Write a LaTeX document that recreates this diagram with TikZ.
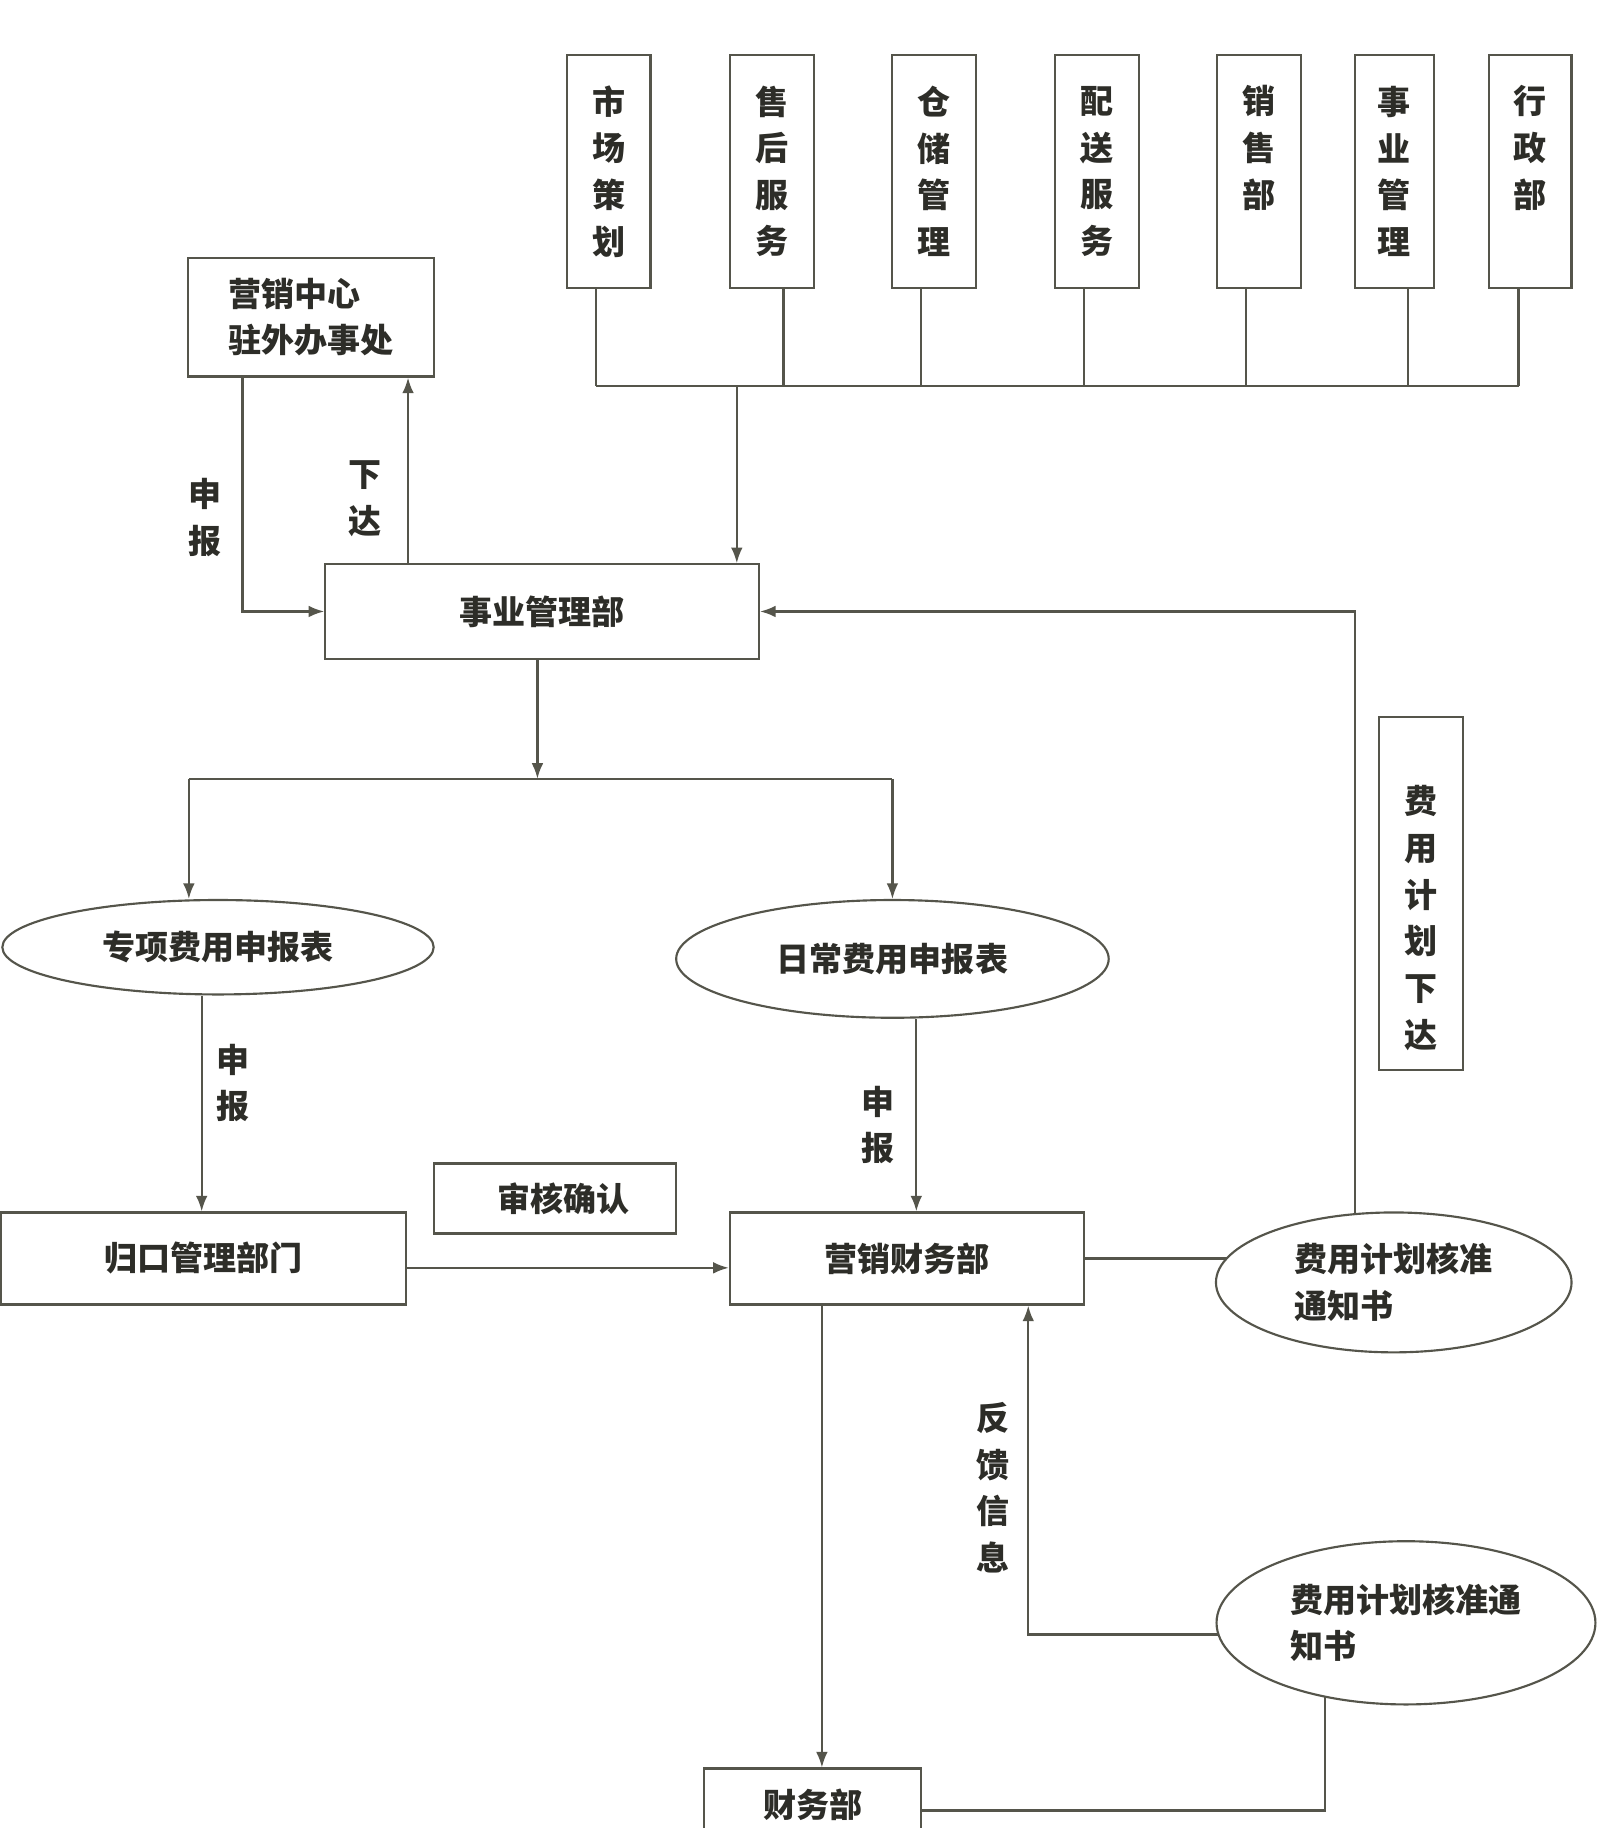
\documentclass[tikz,border=0pt]{standalone}
\usepackage{fontspec}
\setmainfont{Noto Sans CJK SC}
\usetikzlibrary{shapes.geometric,arrows.meta,calc,backgrounds}
\definecolor{lnc}{RGB}{85,85,75}
\definecolor{txc}{RGB}{45,45,40}
\def\U{0.6pt}
\begin{document}
\begin{tikzpicture}[x=0.6pt,y=-0.6pt,
  every node/.style={font=\fontsize{17}{24}\selectfont\bfseries, text=txc},
  bx/.style n args={2}{draw=lnc, line width=1.1pt, fill=white, rectangle, inner sep=0pt, align=center, minimum width=#1*\U, minimum height=#2*\U},
  el/.style n args={2}{draw=lnc, line width=1.1pt, fill=white, ellipse, inner sep=0pt, align=center, minimum width=#1*\U, minimum height=#2*\U},
  vt/.style={align=center, inner sep=0pt},
  cn/.style={draw=lnc, line width=1.1pt},
  arr/.style={cn, -{Latex[length=8pt,width=6pt]}}
]
\useasboundingbox (0,0) rectangle (1370,1568);

% top department boxes
\node[bx={72}{200}] (b1) at (522,147) {市\\场\\策\\划};
\node[bx={72}{200}] (b2) at (662,147) {售\\后\\服\\务};
\node[bx={72}{200}] (b3) at (801,147) {仓\\储\\管\\理};
\node[bx={72}{200}] (b4) at (941,147) {配\\送\\服\\务};
\node[bx={72}{200}] (b5) at (1080,147) {销\\售\\部\\\phantom{部}};
\node[bx={68}{200}] (b6) at (1196,147) {事\\业\\管\\理};
\node[bx={71}{200}] (b7) at (1312.5,147) {行\\政\\部\\\phantom{部}};

\node[bx={211}{102}, align=left] (yx) at (266.5,272) {营销中心\\驻外办事处};
\node[bx={372}{81}] (sy) at (465,524.5) {事业管理部};

\node[el={370}{81}] (zx) at (187,812.5) {专项费用申报表};
\node[el={371}{101}] (rc) at (765.5,822.5) {日常费用申报表};

\node[bx={347}{79}] (gk) at (174.5,1079.5) {归口管理部门};
\node[bx={208}{60}] (sh) at (476,1028) {\hspace{8.4pt}审核确认};
\node[bx={304}{79}] (yc) at (778,1079.5) {营销财务部};

\node[el={305}{120}, align=left] (tz1) at (1195.5,1100) {费用计划核准\\通知书};
\node[bx={72}{303}] (jh) at (1219,766.5) {};
\node[vt] (jht) at (1219,787.5) {费\\用\\计\\划\\下\\达};

\node[el={325}{140}, align=left] (tz2) at (1206,1392) {费用计划核准通\\知书};
\node[bx={186}{63}] (cw) at (697,1548.5) {财务部};

% connector labels
\node[vt] (l1) at (176,444) {申\\报};
\node[vt] (l2) at (313,428) {下\\达};
\node[vt] (l3) at (200,929) {申\\报};
\node[vt] (l4) at (753,965) {申\\报};
\node[vt] (l5) at (852,1276) {反\\馈\\信\\息};

\coordinate (bus) at (0,331);
\coordinate (busj) at (632,331);
\coordinate (hL) at (162,668);
\coordinate (hR) at (765.5,668);

\begin{scope}[on background layer]
\fill[white] (0,0) rectangle (1370,1568);
\foreach \b/\d [count=\i] in {b1/-11,b2/10,b3/-11,b4/-11,b5/-11,b6/12,b7/-10}
  { \draw[cn] ($(\b.south)+(\d,0)$) coordinate (t\i) -- (t\i |- bus); }
\draw[cn] (t1 |- bus) -- (t7 |- bus);
\draw[arr] (busj) -- (busj |- sy.north);

\draw[arr] ($(yx.south)+(-58.5,0)$) |- (sy.west);
\draw[arr] ($(sy.north)+(-115,0)$) coordinate (t8) -- (t8 |- yx.south);
\draw[arr] ($(sy.south)+(-4,0)$) coordinate (t9) -- (t9 |- hL);
\draw[cn] (hL) -- (hR);
\draw[arr] (hL) -- (hL |- zx.north);
\draw[arr] (hR) -- (rc.north);

\draw[arr] ($(zx.south)+(-14,0)$) coordinate (t10) -- (t10 |- gk.north);
\draw[arr] ($(rc.south)+(20.5,0)$) coordinate (t11) -- (t11 |- yc.north);
\draw[arr] ($(gk.east)+(0,8)$) -- ($(yc.west)+(0,8)$);

\draw[cn] (yc.east) -- (tz1.center |- yc.east);
\draw[arr] ($(tz1.center)+(-33.5,0)$) |- (sy.east);

\draw[arr] ($(tz2.center)+(0,10)$) -| ($(yc.south)+(104,0)$);
\draw[arr] ($(yc.south)+(-73,0)$) coordinate (t12) -- (t12 |- cw.north);
\draw[cn] ($(tz2.center)+(-69.5,0)$) |- ($(cw.east)+(0,4.5)$);
\end{scope}
\end{tikzpicture}
\end{document}
